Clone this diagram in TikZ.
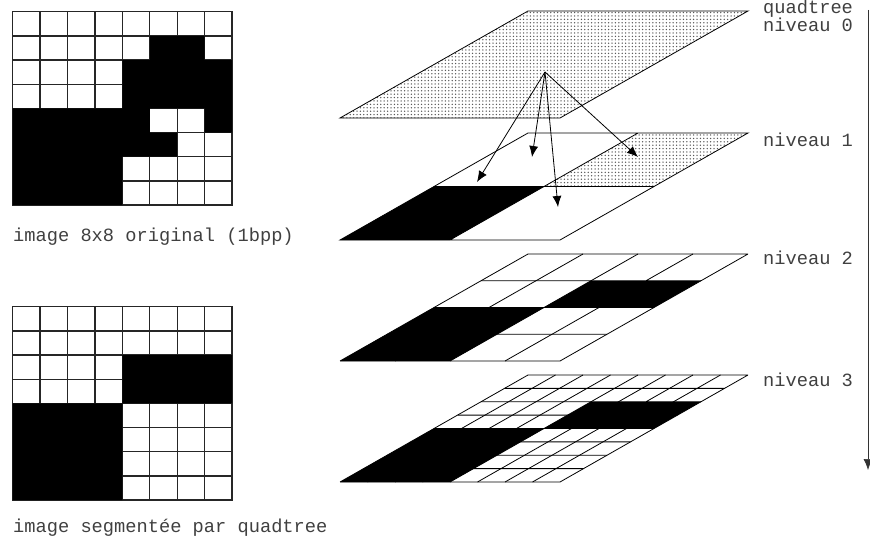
\documentclass[tikz,border=0pt]{standalone}
\usepackage{fontspec}
\setmonofont{Liberation Mono}
\usetikzlibrary{arrows.meta,patterns.meta}

\begin{document}
\begin{tikzpicture}[x=1pt,y=-1pt,>={Latex[length=11pt,width=9pt]},
  pixgrid/.style={line width=1.3pt,black!85,line cap=rect},
  planexy/.style={x={(220pt,0pt)},y={(188pt,107pt)}},
  plane/.style={line width=0.8pt},
  mixed/.style={pattern={Dots[distance=3.4pt,radius=0.75pt]},pattern color=black!65},
  lbl/.style={font=\ttfamily\fontsize{18.7}{20}\selectfont,text=black!75,anchor=west,inner sep=0pt}]
\useasboundingbox (0,0) rectangle (870,543);

\begin{scope}[shift={(12.7,11.7)},x=27.42pt,y=-24.17pt]
\foreach \i in {0,...,8} \draw[pixgrid] (\i,0) -- (\i,8) (0,\i) -- (8,\i);
\fill (5,1) rectangle (7,2) (4,2) rectangle (8,4) (0,4) rectangle (5,5) (7,4) rectangle (8,5) (0,5) rectangle (6,6) (0,6) rectangle (4,8);
\end{scope}
\node[lbl] (orig) at (13,237) {image 8x8 original (1bpp)};

\begin{scope}[shift={(12.7,306.7)},x=27.42pt,y=-24.17pt]
\foreach \i in {0,...,8} \draw[pixgrid] (\i,0) -- (\i,8) (0,\i) -- (8,\i);
\fill (4,2) rectangle (8,4) (0,4) rectangle (4,8);
\end{scope}
\node[lbl] (segm) at (13,528) {image segmentée par quadtree};

\begin{scope}[shift={(340,118)},planexy]
\draw[plane,mixed] (0,0) -- (1,0) -- (1,1) -- (0,1) -- cycle;
\end{scope}

\begin{scope}[shift={(340,240)},planexy]
\fill (0,0) -- (.5,0) -- (.5,.5) -- (0,.5) -- cycle;
\fill[mixed] (.5,.5) -- (1,.5) -- (1,1) -- (.5,1) -- cycle;
\draw[plane] (0,0) -- (1,0) -- (1,1) -- (0,1) -- cycle (0,.5) -- (1,.5) (.5,0) -- (.5,1);
\end{scope}

\begin{scope}[shift={(340,361)},planexy]
\fill (0,0) -- (.5,0) -- (.5,.5) -- (0,.5) -- cycle (.5,.5) -- (1,.5) -- (1,.75) -- (.5,.75) -- cycle;
\foreach \i in {0,...,4} \draw[plane] (\i/4,0) -- (\i/4,1) (0,\i/4) -- (1,\i/4);
\end{scope}

\begin{scope}[shift={(340,482)},planexy]
\fill (0,0) -- (.5,0) -- (.5,.5) -- (0,.5) -- cycle (.5,.5) -- (1,.5) -- (1,.75) -- (.5,.75) -- cycle;
\foreach \i in {0,...,8} \draw[plane] (\i/8,0) -- (\i/8,1) (0,\i/8) -- (1,\i/8);
\end{scope}

\coordinate (root) at (545,72);
\coordinate (sw) at (477,182);
\coordinate (nw) at (532,157);
\coordinate (se) at (558,207);
\coordinate (ne) at (638,157);
\foreach \q in {sw,nw,se,ne} \draw[->,line width=0.8pt] (root) -- (\q);

\coordinate (top) at (868,10);
\coordinate (bot) at (868,470);
\draw[->,line width=0.7pt,black!80] (top) -- (bot);

\node[lbl] (qt) at (763,9) {quadtree};
\foreach \n/\y in {0/25,1/140,2/258,3/380} \node[lbl] (niv\n) at (763,\y) {niveau \n};
\end{tikzpicture}
\end{document}
